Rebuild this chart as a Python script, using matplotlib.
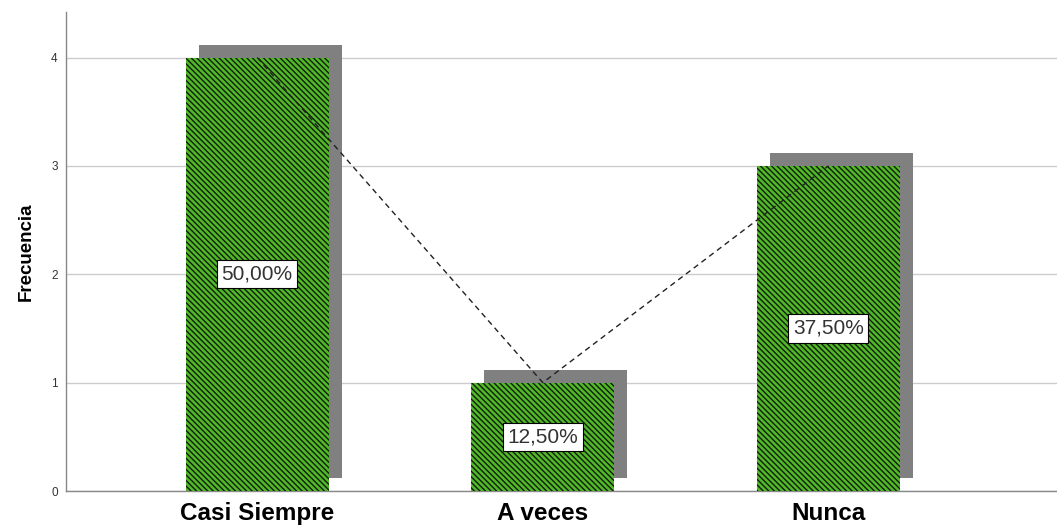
import matplotlib

matplotlib.use("Agg")
import matplotlib.pyplot as plt  # noqa: E402
from matplotlib import transforms  # noqa: E402

# Datos del grafico
categorias = ["Casi Siempre", "A veces", "Nunca"]
frecuencias = [4, 1, 3]
porcentajes = ["50,00%", "12,50%", "37,50%"]

plt.rcParams["font.family"] = ["Liberation Sans", "DejaVu Sans"]
plt.rcParams["hatch.linewidth"] = 1.0

fig = plt.figure(figsize=(10.57, 5.27), dpi=100)
ax = fig.add_axes([66 / 1057, 1 - 491 / 527, 1 - 66 / 1057, (491 - 12) / 527])

x = list(range(len(categorias)))
ancho = 0.5

# sombra gris desplazada 13 px a la derecha y hacia arriba
sombra = transforms.offset_copy(ax.transData, fig=fig, x=13, y=13, units="dots")
ax.bar(x, frecuencias, width=ancho, color="#808080", edgecolor="none",
       transform=sombra, zorder=2)

ax.bar(x, frecuencias, width=ancho, color="#52b82a", edgecolor="#10200a",
       linewidth=0, hatch="\\\\\\\\\\\\", zorder=3)

# linea discontinua entre las cimas de las barras
ax.plot(x, frecuencias, color="#222222", lw=1, ls=(0, (4, 3)), zorder=4)

for xi, f, p in zip(x, frecuencias, porcentajes):
    ax.text(xi, f / 2, p, ha="center", va="center", fontsize=15,
            color="#333333", zorder=5,
            bbox=dict(boxstyle="square,pad=0.22", fc="white", ec="black",
                      lw=0.8))

ax.set_xlim(-0.669, 2.80)
ax.set_ylim(0, 4.42)
ax.set_yticks([0, 1, 2, 3, 4])
ax.set_xticks(x)
ax.set_xticklabels(categorias, fontsize=17.5, fontweight="bold")
ax.tick_params(axis="y", length=0, labelsize=8.5, labelcolor="#333333", pad=6)
ax.tick_params(axis="x", length=0, pad=8)
ax.set_ylabel("Frecuencia", fontsize=13.5, fontweight="bold", labelpad=12)

ax.grid(axis="y", color="#cccccc", lw=1, zorder=0)
ax.set_axisbelow(True)
for lado in ("top", "right"):
    ax.spines[lado].set_visible(False)
for lado in ("left", "bottom"):
    ax.spines[lado].set_color("#888888")
    ax.spines[lado].set_linewidth(1)

fig.savefig("out.png", dpi=100)
